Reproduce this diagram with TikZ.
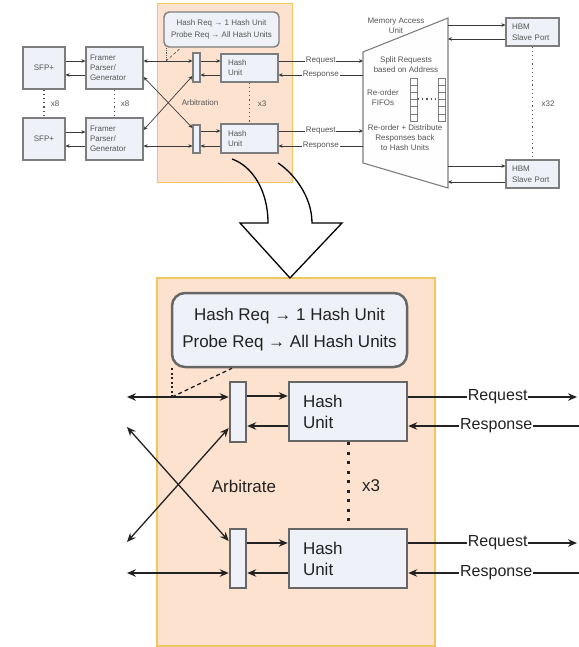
\documentclass[tikz,border=0pt]{standalone}
\usepackage{fontspec}
\setmainfont{Liberation Sans}
\usetikzlibrary{arrows.meta}
\definecolor{peach}{HTML}{FDE3CF}
\definecolor{peachline}{HTML}{F0C75A}
\definecolor{boxfill}{HTML}{EEF2F8}
\definecolor{boxline}{HTML}{666666}
\definecolor{txt}{HTML}{222222}
\definecolor{toptxt}{HTML}{555555}
\definecolor{topline}{HTML}{3A3A3A}
\begin{document}
\begin{tikzpicture}[x=1pt,y=-1pt,
  tfont/.style={font=\fontsize{8}{10}\selectfont},
  tbox/.style={draw=boxline!85, fill=boxfill, line width=1.1pt, inner sep=0pt, tfont, text=toptxt},
  bbox/.style={draw=boxline, fill=boxfill, line width=2.5pt, inner sep=0pt, text=txt, font=\fontsize{17}{21}\selectfont},
  arrT/.style={draw=topline, line width=0.7pt, -{Stealth[length=4pt,width=3.6pt,inset=1.2pt]}},
  arrTT/.style={draw=topline, line width=0.7pt, {Stealth[length=4pt,width=3.6pt,inset=1.2pt]}-{Stealth[length=4pt,width=3.6pt,inset=1.2pt]}},
  arrB/.style={draw=txt, line width=1.3pt, -{Stealth[length=9pt,width=7.5pt,inset=3pt]}},
  arrBB/.style={draw=txt, line width=1.3pt, {Stealth[length=9pt,width=7.5pt,inset=3pt]}-{Stealth[length=9pt,width=7.5pt,inset=3pt]}},
  lblT/.style={fill=white, inner sep=0.8pt, tfont, text=toptxt},
  lblB/.style={fill=white, inner sep=1pt, text=txt, font=\fontsize{16}{19}\selectfont},
  dotT/.style={draw=toptxt, line width=1.2pt, dash pattern=on 1.2pt off 3pt},
  dotB/.style={draw=txt, line width=3pt, dash pattern=on 3pt off 6.5pt},
  plain/.style={inner sep=0pt, text=txt, font=\fontsize{17}{21}\selectfont}
]
\useasboundingbox (0,0) rectangle (578,647);

% ---------- backgrounds ----------
\fill[white] (0,0) rectangle (578,647);
\draw[fill=peach, draw=peachline, line width=0.8pt] (157,3) rectangle (292,182);
\draw[fill=peach, draw=peachline, line width=1.2pt] (157,278) rectangle (435,646);

% ---------- top diagram ----------
\node[tbox, minimum width=42, minimum height=42] (sfp1) at (44,68) {SFP+};
\node[tbox, minimum width=42, minimum height=42] (sfp2) at (44,139) {SFP+};
\node[tbox, minimum width=57, minimum height=42, text width=49, align=left] (fr1) at (114.5,68) {Framer\\Parser/\\Generator};
\node[tbox, minimum width=57, minimum height=42, text width=49, align=left] (fr2) at (114.5,139) {Framer\\Parser/\\Generator};
\node[tbox, rounded corners=5pt, line width=1.4pt, minimum width=115, minimum height=35, align=center, font=\fontsize{8}{12.5}\selectfont] (rule1) at (221.5,29.5) {Hash Req → 1 Hash Unit\\Probe Req → All Hash Units};
\node[tbox, minimum width=7, minimum height=29] (mux1) at (196.5,67.5) {};
\node[tbox, minimum width=7, minimum height=28] (mux2) at (196.5,139) {};
\node[tbox, minimum width=57, minimum height=28, text width=43, align=left] (hash1) at (249.5,68) {Hash\\Unit};
\node[tbox, minimum width=57, minimum height=29, text width=43, align=left] (hash2) at (249.5,138.5) {Hash\\Unit};
\node[tbox, minimum width=53, minimum height=28, text width=41, align=left, font=\fontsize{8}{11}\selectfont] (hbm1) at (532.5,32) {HBM\\Slave Port};
\node[tbox, minimum width=53, minimum height=28, text width=41, align=left, font=\fontsize{8}{11}\selectfont] (hbm2) at (532.5,174) {HBM\\Slave Port};

% memory access unit
\draw[draw=boxline!85, fill=white!92!boxfill, line width=1.1pt] (363,52) -- (448,18) -- (448,188) -- (363,163) -- cycle;
\coordinate (mauL) at (363,100);
\coordinate (mauR) at (448,100);
\node[tfont, text=toptxt, align=center] (maulbl) at (396,25.5) {Memory Access\\Unit};
\node[tfont, text=toptxt, align=center] (split) at (406,64.5) {Split Requests\\based on Address};
\node[tfont, text=toptxt, align=center] (reord) at (383,98) {Re-order\\FIFOs};
\node[tfont, text=toptxt, align=center] (distr) at (405,138) {Re-order + Distribute\\Responses back\\to Hash Units};
\foreach \i in {0,...,5} {
  \draw[draw=boxline!85, fill=white, line width=0.7pt] (410,78+7.2*\i) rectangle ++(7,7.2);
  \draw[draw=boxline!85, fill=white, line width=0.7pt] (438,78+7.2*\i) rectangle ++(7.5,7.2);
}
\draw[dotT] (418,99) -- (437,99);

% top connectors
\draw[arrT] (sfp1.east |- 0,61) -- (fr1.west |- 0,61);
\draw[arrT] (fr1.west |- 0,75) -- (sfp1.east |- 0,75);
\draw[arrT] (sfp2.east |- 0,132) -- (fr2.west |- 0,132);
\draw[arrT] (fr2.west |- 0,146) -- (sfp2.east |- 0,146);
\draw[arrTT] (fr1.east |- 0,61) -- (mux1.west |- 0,61);
\draw[arrTT] (fr1.east |- 0,77) -- (mux2.west |- 0,128);
\draw[arrTT] (fr2.east |- 0,130) -- (mux1.west |- 0,76);
\draw[arrTT] (fr2.east |- 0,146) -- (mux2.west |- 0,146);
\draw[arrT] (mux1.east |- 0,61) -- (hash1.west |- 0,61);
\draw[arrT] (hash1.west |- 0,75) -- (mux1.east |- 0,75);
\draw[arrT] (mux2.east |- 0,131) -- (hash2.west |- 0,131);
\draw[arrT] (hash2.west |- 0,146) -- (mux2.east |- 0,146);
\draw[arrT] (hash1.east |- 0,61) -- node[lblT] {Request} (mauL |- 0,61);
\draw[arrT] (mauL |- 0,75) -- node[lblT] {Response} (hash1.east |- 0,75);
\draw[arrT] (hash2.east |- 0,131) -- node[lblT] {Request} (mauL |- 0,131);
\draw[arrT] (mauL |- 0,146) -- node[lblT] {Response} (hash2.east |- 0,146);
\draw[arrT] (mauR |- 0,25) -- (hbm1.west |- 0,25);
\draw[arrT] (hbm1.west |- 0,39) -- (mauR |- 0,39);
\draw[arrT] (mauR |- 0,166) -- (hbm2.west |- 0,166);
\draw[arrT] (hbm2.west |- 0,182) -- (mauR |- 0,182);

% top dotted and labels
\draw[dotT] (sfp1.south) -- (sfp2.north);
\draw[dotT] (fr1.south) -- (fr2.north);
\draw[dotT] (hash1.south) -- (hash2.north);
\draw[dotT] (hbm1.south) -- (hbm2.north);
\node[tfont, text=toptxt] (x8a) at (55,104) {x8};
\node[tfont, text=toptxt] (x8b) at (125,104) {x8};
\node[tfont, text=toptxt] (x3a) at (262,104) {x3};
\node[tfont, text=toptxt] (x32) at (548,104) {x32};
\node[tfont, text=toptxt] (arbT) at (200,103) {Arbitration};
\coordinate (tj) at (166,61);
\draw[draw=toptxt, line width=0.7pt, densely dotted] (tj) -- (tj |- rule1.south);
\draw[draw=toptxt, line width=0.7pt, densely dashed] (tj) -- (rule1.south -| 181,0);

% ---------- block arrow ----------
\draw[line width=1.3pt, line join=miter] (232,159) .. controls (252,166) and (268,190) .. (268,223)
  -- (240,223) -- (290,278) -- (342,223) -- (312,223)
  .. controls (312,195) and (292,172) .. (278,163);

% ---------- bottom diagram ----------
\node[bbox, rounded corners=13pt, minimum width=235, minimum height=74, align=center, font=\fontsize{17}{27}\selectfont] (rule2) at (289.5,330) {Hash Req → 1 Hash Unit\\Probe Req → All Hash Units};
\node[bbox, minimum width=16, minimum height=60] (muxb1) at (238,412) {};
\node[bbox, minimum width=16, minimum height=59] (muxb2) at (238,558.5) {};
\node[bbox, minimum width=118, minimum height=59, text width=90, align=left] (hashb1) at (348,411.5) {Hash\\Unit};
\node[bbox, minimum width=118, minimum height=59, text width=90, align=left] (hashb2) at (348,558.5) {Hash\\Unit};

\coordinate (rq1) at (577,397);
\coordinate (rs1) at (579,426);
\coordinate (rq2) at (577,543);
\coordinate (rs2) at (579,573);
\coordinate (lb1) at (127,397);
\coordinate (lb2) at (127,427);
\coordinate (lb3) at (127,542);
\coordinate (lb4) at (127,573);

\draw[arrB] (muxb1.east |- 0,396) -- (hashb1.west |- 0,396);
\draw[arrB] (hashb1.west |- 0,426) -- (muxb1.east |- 0,426);
\draw[arrB] (muxb2.east |- 0,543) -- (hashb2.west |- 0,543);
\draw[arrB] (hashb2.west |- 0,573) -- (muxb2.east |- 0,573);
\draw[arrB] (hashb1.east |- 0,397) -- node[lblB, pos=0.53] {Request} (rq1);
\draw[arrB] (rs1) -- node[lblB, pos=0.485] {Response} (hashb1.east |- 0,426);
\draw[arrB] (hashb2.east |- 0,543) -- node[lblB, pos=0.53] {Request} (rq2);
\draw[arrB] (rs2) -- node[lblB, pos=0.485] {Response} (hashb2.east |- 0,573);
\draw[arrBB] (lb1) -- (muxb1.west |- 0,397);
\draw[arrBB] (lb2) -- (muxb2.west |- 0,541);
\draw[arrBB] (lb3) -- (muxb1.west |- 0,428);
\draw[arrBB] (lb4) -- (muxb2.west |- 0,573);

\draw[dotB] (hashb1.south) -- (hashb2.north);
\node[plain] (x3b) at (371,486) {x3};
\node[plain] (arbB) at (244,486) {Arbitrate};

\coordinate (bj) at (172,397);
\draw[draw=txt, line width=1.4pt, dash pattern=on 2pt off 2.5pt] (bj) -- (bj |- rule2.south);
\draw[draw=txt, line width=1.3pt, dash pattern=on 4pt off 3pt] (bj) -- (rule2.south -| 232,0);
\end{tikzpicture}
\end{document}
